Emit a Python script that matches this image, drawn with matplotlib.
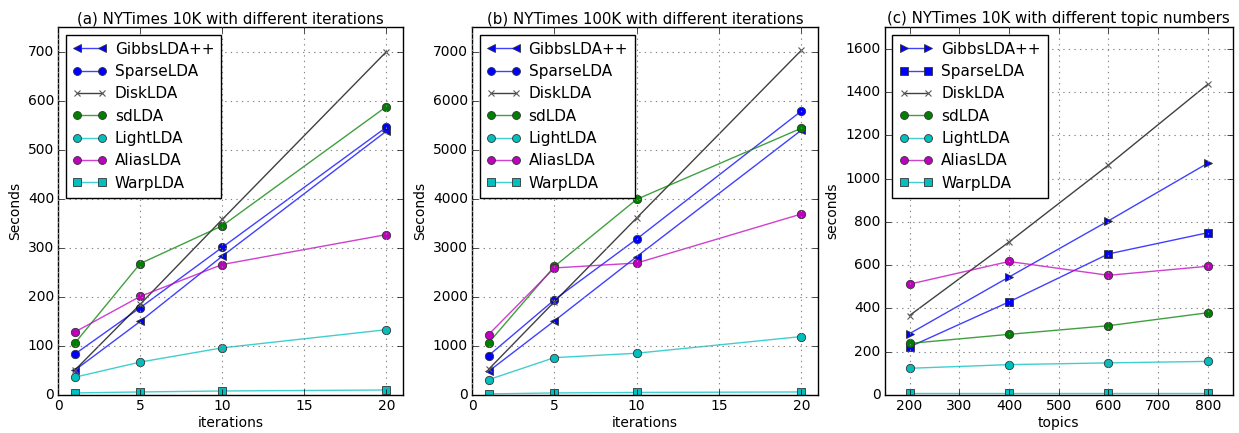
import matplotlib
matplotlib.use('Agg')
import matplotlib.pyplot as plt

plt.style.use('classic')
plt.rcParams['font.family'] = ['DejaVu Sans']

names = ['GibbsLDA++', 'SparseLDA', 'DiskLDA', 'sdLDA', 'LightLDA', 'AliasLDA', 'WarpLDA']
colors = ['b', 'b', 'k', 'g', 'c', 'm', 'c']

iters = [1, 5, 10, 20]
topics = [200, 400, 600, 800]

# (a) NYTimes 10K, seconds vs iterations
a_gibbs = [50, 150, 283, 538]
a_sparse = [83, 178, 301, 546]
a_disk = [50, 185, 358, 700]
a_sd = [105, 268, 345, 588]
a_light = [36, 67, 96, 133]
a_alias = [128, 201, 266, 327]
a_warp = [4, 6, 8, 10]

# (b) NYTimes 100K, seconds vs iterations
b_gibbs = [480, 1510, 2820, 5400]
b_sparse = [800, 1940, 3180, 5790]
b_disk = [520, 1900, 3610, 7030]
b_sd = [1060, 2620, 3990, 5440]
b_light = [310, 760, 850, 1190]
b_alias = [1230, 2590, 2690, 3690]
b_warp = [20, 40, 50, 60]

# (c) NYTimes 10K, seconds vs topics
c_gibbs = [283, 545, 805, 1072]
c_sparse = [222, 430, 652, 750]
c_disk = [367, 707, 1063, 1437]
c_sd = [238, 280, 320, 380]
c_light = [123, 140, 148, 155]
c_alias = [512, 617, 553, 595]
c_warp = [10, 10, 10, 10]

fig = plt.figure(figsize=(12.39, 4.33), dpi=100, facecolor='white')


def draw(rect, x, series, markers, title, xlabel, ylabel, xlim, ylim, xticks=None):
    ax = fig.add_axes(rect)
    ax.set_facecolor('white')
    for name, ys, c, m in zip(names, series, colors, markers):
        rgba = matplotlib.colors.to_rgba(c, 0.75)
        if m == 'x':
            ax.plot(x, ys, color=rgba, marker=m, markeredgecolor=(0.35, 0.35, 0.35),
                    markersize=5, markeredgewidth=0.8, linewidth=1.0, label=name)
        else:
            ax.plot(x, ys, color=rgba, marker=m, markerfacecolor=c, markeredgecolor='#333333',
                    markersize=6, markeredgewidth=0.6, linewidth=1.0, label=name)
    ax.set_xlim(*xlim)
    ax.set_ylim(*ylim)
    if xticks is not None:
        ax.set_xticks(xticks)
    ax.grid(True, linestyle=':', color='#888888', linewidth=0.8)
    ax.set_title(title, fontsize=10.8, pad=3)
    ax.set_xlabel(xlabel, fontsize=10, labelpad=2)
    ax.set_ylabel(ylabel, fontsize=10, labelpad=4)
    ax.tick_params(labelsize=10, pad=3)
    ax.legend(loc='upper left', fontsize=11, numpoints=2, handlelength=2.2,
              handletextpad=0.55, borderpad=0.45, labelspacing=0.48,
              fancybox=False, frameon=True, markerscale=0.95)
    return ax


draw([0.047, 0.088, 0.278, 0.849], iters,
     [a_gibbs, a_sparse, a_disk, a_sd, a_light, a_alias, a_warp],
     ['<', 'o', 'x', 'o', 'o', 'o', 's'],
     '(a) NYTimes 10K with different iterations', 'iterations', 'Seconds',
     (0, 21), (0, 750), [0, 5, 10, 15, 20])

draw([0.381, 0.088, 0.279, 0.849], iters,
     [b_gibbs, b_sparse, b_disk, b_sd, b_light, b_alias, b_warp],
     ['<', 'o', 'x', 'o', 'o', 'o', 's'],
     '(b) NYTimes 100K with different iterations', 'iterations', 'Seconds',
     (0, 21), (0, 7500), [0, 5, 10, 15, 20])

draw([0.714, 0.088, 0.281, 0.849], topics,
     [c_gibbs, c_sparse, c_disk, c_sd, c_light, c_alias, c_warp],
     ['>', 's', 'x', 'o', 'o', 'o', 's'],
     '(c) NYTimes 10K with different topic numbers', 'topics', 'seconds',
     (150, 850), (0, 1700), [200, 300, 400, 500, 600, 700, 800])

fig.savefig('out.png', dpi=100, facecolor='white')
